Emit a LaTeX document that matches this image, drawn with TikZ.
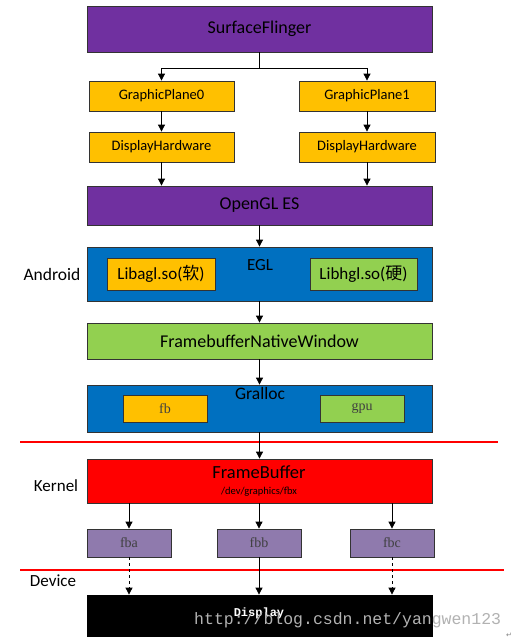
\documentclass[tikz,border=0pt]{standalone}
\usepackage{fontspec}
\setmainfont{Carlito}
\newfontfamily\serifx{Liberation Serif}
\newfontfamily\monox{Liberation Mono}
\newfontfamily\cjk{Noto Sans CJK SC}
\newfontfamily\symx{DejaVu Sans}
\usetikzlibrary{arrows.meta}
\definecolor{purp}{HTML}{7030A0}
\definecolor{orng}{HTML}{FFC000}
\definecolor{grn}{HTML}{92D050}
\definecolor{blu}{HTML}{0070C0}
\definecolor{fbpurp}{RGB}{143,122,173}
\definecolor{edge}{HTML}{333333}
\tikzset{
  box/.style={draw=edge, line width=0.8pt, inner sep=0pt, align=center},
  big/.style={box, minimum width=345pt},
  arr/.style={draw=black, line width=0.8pt, -{Triangle[length=7pt,width=7pt]}},
  darr/.style={arr, dashed},
  lbl/.style={inner sep=0pt},
  sep/.style={draw=red, line width=2.2pt},
  fL/.style={font=\fontsize{18}{20}\selectfont},
  fM/.style={font=\fontsize{14.5}{17}\selectfont},
  fS/.style={font=\serifx\fontsize{14}{16}\selectfont, text=black!75},
}
\begin{document}
\begin{tikzpicture}[x=1pt,y=-1pt]
\useasboundingbox[fill=white] (0,0) rectangle (516,641);
% top
\node[big, fill=purp, minimum height=46pt, fL] (sf) at (259.5,29) {SurfaceFlinger};
\node[box, fill=orng, minimum width=145pt, minimum height=30pt, fM] (gp0) at (161.5,96) {GraphicPlane0};
\node[box, fill=orng, minimum width=136pt, minimum height=30pt, fM] (gp1) at (367,96) {GraphicPlane1};
\node[box, fill=orng, minimum width=145pt, minimum height=30pt, fM] (dh0) at (161.5,147) {DisplayHardware};
\node[box, fill=orng, minimum width=136pt, minimum height=30pt, fM] (dh1) at (367,147) {DisplayHardware};
\node[big, fill=purp, minimum height=39pt, fL] (ogl) at (259.5,205.5) {OpenGL ES};
% EGL
\node[big, fill=blu, minimum height=54pt] (egl) at (259.5,274) {};
\node[lbl, font=\fontsize{17}{19}\selectfont] (egltxt) at (260,265) {EGL};
\node[box, fill=orng, minimum width=108pt, minimum height=32pt, font=\fontsize{17}{19}\selectfont] (agl) at (161,274) {Libagl.so({\cjk 软})};
\node[box, fill=grn, minimum width=107pt, minimum height=32pt, font=\fontsize{17}{19}\selectfont] (hgl) at (363.5,274) {Libhgl.so({\cjk 硬})};
\node[lbl, font=\fontsize{17.5}{19}\selectfont] (android) at (52,274) {Android};
% FNW
\node[big, fill=grn, minimum height=36pt, fL] (fnw) at (259.5,341) {FramebufferNativeWindow};
% Gralloc
\node[big, fill=blu, minimum height=47pt] (gra) at (259.5,408.5) {};
\node[lbl, font=\fontsize{17.5}{19}\selectfont] (gratxt) at (260,393) {Gralloc};
\node[box, fill=orng, minimum width=84pt, minimum height=27pt, fS] (fb) at (165,408.5) {fb};
\node[box, fill=grn, minimum width=84pt, minimum height=27pt, fS] (gpu) at (362,408.5) {gpu};
% separator 1
\coordinate (s1a) at (20,442);
\coordinate (s1b) at (498,442);
\draw[sep] (s1a) -- (s1b);
% Kernel
\node[big, fill=red, minimum height=44pt] (fbuf) at (259.5,481) {};
\node[lbl, font=\fontsize{18.5}{20}\selectfont] (fbuftxt) at (259,472) {FrameBuffer};
\node[lbl, font=\fontsize{10.5}{12}\selectfont] (fbxtxt) at (259,492) {/dev/graphics/fbx};
\node[lbl, font=\fontsize{17}{19}\selectfont] (kernel) at (56,486) {Kernel};
\node[box, fill=fbpurp, minimum width=84pt, minimum height=28pt, fS] (fba) at (129,543) {fba};
\node[box, fill=fbpurp, minimum width=84pt, minimum height=28pt, fS] (fbb) at (259,543) {fbb};
\node[box, fill=fbpurp, minimum width=84pt, minimum height=28pt, fS] (fbc) at (392,543) {fbc};
% separator 2
\coordinate (s2a) at (20,570);
\coordinate (s2b) at (504,570);
\draw[sep] (s2a) -- (s2b);
\node[lbl, font=\fontsize{17}{19}\selectfont] (device) at (53,581) {Device};
% Display
\node[big, fill=black, draw=black, minimum height=41pt] (disp) at (259.5,615.5) {};
\node[lbl, font=\monox\bfseries\fontsize{12}{14}\selectfont, text=white] (disptxt) at (259,613) {Display};
% connectors
\draw[line width=0.8pt] (sf.south) -- ++(0,16) coordinate (split);
\draw[arr] (split) -| (gp0.north);
\draw[arr] (split) -| (gp1.north);
\draw[arr] (gp0) -- (dh0);
\draw[arr] (gp1) -- (dh1);
\draw[arr] (dh0.south) -- (dh0.south |- ogl.north);
\draw[arr] (dh1.south) -- (dh1.south |- ogl.north);
\draw[arr] (ogl.south) -- (egl.north);
\draw[arr] (egl.south) -- (fnw.north);
\draw[arr] (fnw.south) -- (gra.north);
\draw[arr] (gra.south) -- (fbuf.north);
\draw[arr] (fba.north |- fbuf.south) -- (fba.north);
\draw[arr] (fbb.north |- fbuf.south) -- (fbb.north);
\draw[arr] (fbc.north |- fbuf.south) -- (fbc.north);
\draw[darr] (fba.south) -- (fba.south |- disp.north);
\draw[arr] (fbb.south) -- (fbb.south |- disp.north);
\draw[darr] (fbc.south) -- (fbc.south |- disp.north);
% watermark
\node[lbl, font=\monox\fontsize{16.5}{18}\selectfont, text=black!30, anchor=west] (wm) at (194,620) {http://blog.csdn.net/yangwen123};
\node[lbl, font=\symx\fontsize{7}{8}\selectfont, text=black!50] (ret) at (509,635) {↵};
\end{tikzpicture}
\end{document}
